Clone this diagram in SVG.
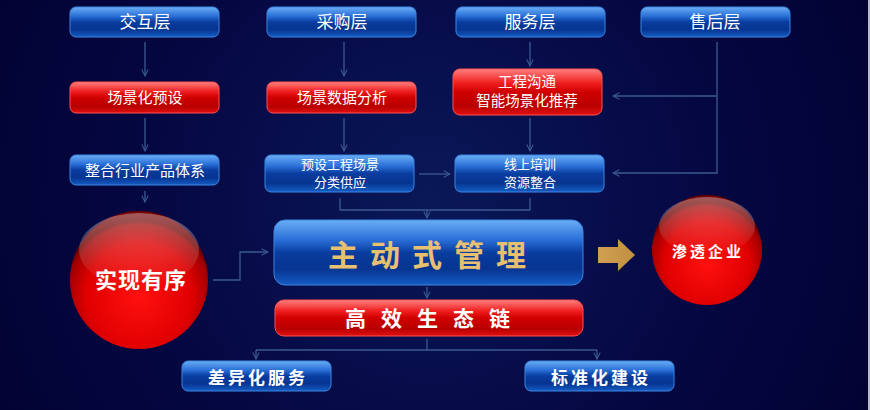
<svg xmlns="http://www.w3.org/2000/svg" width="870" height="410" viewBox="0 0 870 410">
<defs>
<radialGradient id="bg" cx="430" cy="200" r="480" gradientUnits="userSpaceOnUse">
<stop offset="0" stop-color="#0a1858"/>
<stop offset="0.6" stop-color="#050742"/>
<stop offset="1" stop-color="#020233"/>
</radialGradient>
<linearGradient id="gb" x1="0" y1="0" x2="0" y2="1">
<stop offset="0" stop-color="#6aaef5"/>
<stop offset="0.3" stop-color="#2a70d8"/>
<stop offset="0.5" stop-color="#0a3da0"/>
<stop offset="0.75" stop-color="#063490"/>
<stop offset="1" stop-color="#155cc4"/>
</linearGradient>
<linearGradient id="gr" x1="0" y1="0" x2="0" y2="1">
<stop offset="0" stop-color="#ff8080"/>
<stop offset="0.3" stop-color="#f02020"/>
<stop offset="0.5" stop-color="#d00000"/>
<stop offset="0.8" stop-color="#b80000"/>
<stop offset="1" stop-color="#e01010"/>
</linearGradient>
<radialGradient id="ball" cx="0.5" cy="0.62" r="0.55">
<stop offset="0" stop-color="#ff1010"/>
<stop offset="0.7" stop-color="#e00000"/>
<stop offset="0.95" stop-color="#a00000"/>
<stop offset="1" stop-color="#700000"/>
</radialGradient>
<linearGradient id="shine" x1="0" y1="0" x2="0" y2="1">
<stop offset="0" stop-color="#ffffff" stop-opacity="0.35"/>
<stop offset="1" stop-color="#ffffff" stop-opacity="0"/>
</linearGradient>
<linearGradient id="gold" x1="0" y1="0" x2="1" y2="0">
<stop offset="0" stop-color="#d0a050"/>
<stop offset="1" stop-color="#c09040"/>
</linearGradient>
<marker id="ah" viewBox="0 0 10 10" refX="9" refY="5" markerWidth="8" markerHeight="8" markerUnits="userSpaceOnUse" orient="auto">
<path d="M1,1 L9,5 L1,9" fill="none" stroke="#3b5a90" stroke-width="1.3"/>
</marker>
</defs>
<style>
.b{fill:url(#gb);stroke:#3a86e0;stroke-width:1}
.r{fill:url(#gr);stroke:#ff5050;stroke-width:1}
.t{font-family:"Noto Sans CJK SC","Noto Sans",sans-serif;fill:#ffffff;text-anchor:middle}
.c{fill:none;stroke:#3b5a90;stroke-width:1.3}
</style>
<rect width="870" height="410" fill="url(#bg)"/>
<rect x="868" y="0" width="2" height="410" fill="#b8b8c8"/>

<g id="connectors">
<path class="c" d="M145,42 V76" marker-end="url(#ah)"/>
<path class="c" d="M145,118 V151" marker-end="url(#ah)"/>
<path class="c" d="M145,191 V202" marker-end="url(#ah)"/>
<path class="c" d="M344,42 V76" marker-end="url(#ah)"/>
<path class="c" d="M344,118 V151" marker-end="url(#ah)"/>
<path class="c" d="M530,42 V66" marker-end="url(#ah)"/>
<path class="c" d="M530,118 V151" marker-end="url(#ah)"/>
<path class="c" d="M717,42 V173 H613" marker-end="url(#ah)"/>
<path class="c" d="M717,96 H613" marker-end="url(#ah)"/>
<path class="c" d="M419,174 H450" marker-end="url(#ah)"/>
<path class="c" d="M340,198 V210 H530 V198"/>
<path class="c" d="M427,210 V218" marker-end="url(#ah)"/>
<path class="c" d="M213,280 H240 V252 H268" marker-end="url(#ah)"/>
<path class="c" d="M427,287 V298" marker-end="url(#ah)"/>
<path class="c" d="M427,339 V350"/>
<path class="c" d="M256,350 H597"/>
<path class="c" d="M256,350 V359" marker-end="url(#ah)"/>
<path class="c" d="M597,350 V359" marker-end="url(#ah)"/>
<path d="M598,247 H618 V239 L635,255 L618,271 V263 H598 Z" fill="url(#gold)"/>
</g>

<g id="n-jiaohu"><rect class="b" x="70" y="7" width="149" height="30" rx="6"/><text class="t" x="145" y="28" font-size="17">交互层</text></g>
<g id="n-caigou"><rect class="b" x="267" y="7" width="149" height="30" rx="6"/><text class="t" x="342" y="28" font-size="17">采购层</text></g>
<g id="n-fuwu"><rect class="b" x="456" y="7" width="149" height="30" rx="6"/><text class="t" x="530" y="28" font-size="17">服务层</text></g>
<g id="n-shouhou"><rect class="b" x="641" y="7" width="149" height="30" rx="6"/><text class="t" x="715" y="28" font-size="17">售后层</text></g>

<g id="n-changjinghua"><rect class="r" x="70" y="82" width="149" height="31" rx="6"/><text class="t" x="145" y="103" font-size="15">场景化预设</text></g>
<g id="n-shuju"><rect class="r" x="267" y="82" width="149" height="31" rx="6"/><text class="t" x="342" y="103" font-size="15">场景数据分析</text></g>
<g id="n-goutong"><rect class="r" x="453" y="69" width="149" height="46" rx="7"/><text class="t" x="527" y="87" font-size="14.5">工程沟通</text><text class="t" x="527" y="106" font-size="14.5">智能场景化推荐</text></g>

<g id="n-zhenghe"><rect class="b" x="70" y="155" width="149" height="30" rx="6"/><text class="t" x="145" y="176" font-size="15">整合行业产品体系</text></g>
<g id="n-yushe"><rect class="b" x="265" y="155" width="149" height="37" rx="6"/><text class="t" x="340" y="169" font-size="13">预设工程场景</text><text class="t" x="340" y="187" font-size="13">分类供应</text></g>
<g id="n-peixun"><rect class="b" x="455" y="155" width="149" height="37" rx="6"/><text class="t" x="530" y="169" font-size="13">线上培训</text><text class="t" x="530" y="187" font-size="13">资源整合</text></g>

<g id="n-youxu"><circle cx="139" cy="280" r="69" fill="url(#ball)"/><ellipse cx="139" cy="250" rx="60" ry="37" fill="url(#shine)"/><text class="t" x="141" y="288" font-size="22" font-weight="bold" letter-spacing="1">实现有序</text></g>
<g id="n-shentou"><circle cx="707" cy="250" r="55" fill="url(#ball)"/><ellipse cx="707" cy="226" rx="48" ry="29" fill="url(#shine)"/><text class="t" x="708" y="257" font-size="15" font-weight="bold" letter-spacing="3">渗透企业</text></g>

<g id="n-zhudong"><rect class="b" x="274" y="220" width="309" height="65" rx="11" stroke-width="2"/><text class="t" x="433" y="266" font-size="30" font-weight="bold" letter-spacing="12" style="fill:#e8c070">主动式管理</text></g>
<g id="n-gaoxiao"><rect class="r" x="275" y="300" width="308" height="36" rx="9"/><text class="t" x="435" y="326" font-size="21" font-weight="bold" letter-spacing="15">高效生态链</text></g>

<g id="n-chayi"><rect class="b" x="182" y="361" width="149" height="30" rx="6"/><text class="t" x="258" y="384" font-size="17" font-weight="bold" letter-spacing="3">差异化服务</text></g>
<g id="n-biaozhun"><rect class="b" x="525" y="361" width="149" height="30" rx="6"/><text class="t" x="601" y="384" font-size="17" font-weight="bold" letter-spacing="3">标准化建设</text></g>
</svg>
